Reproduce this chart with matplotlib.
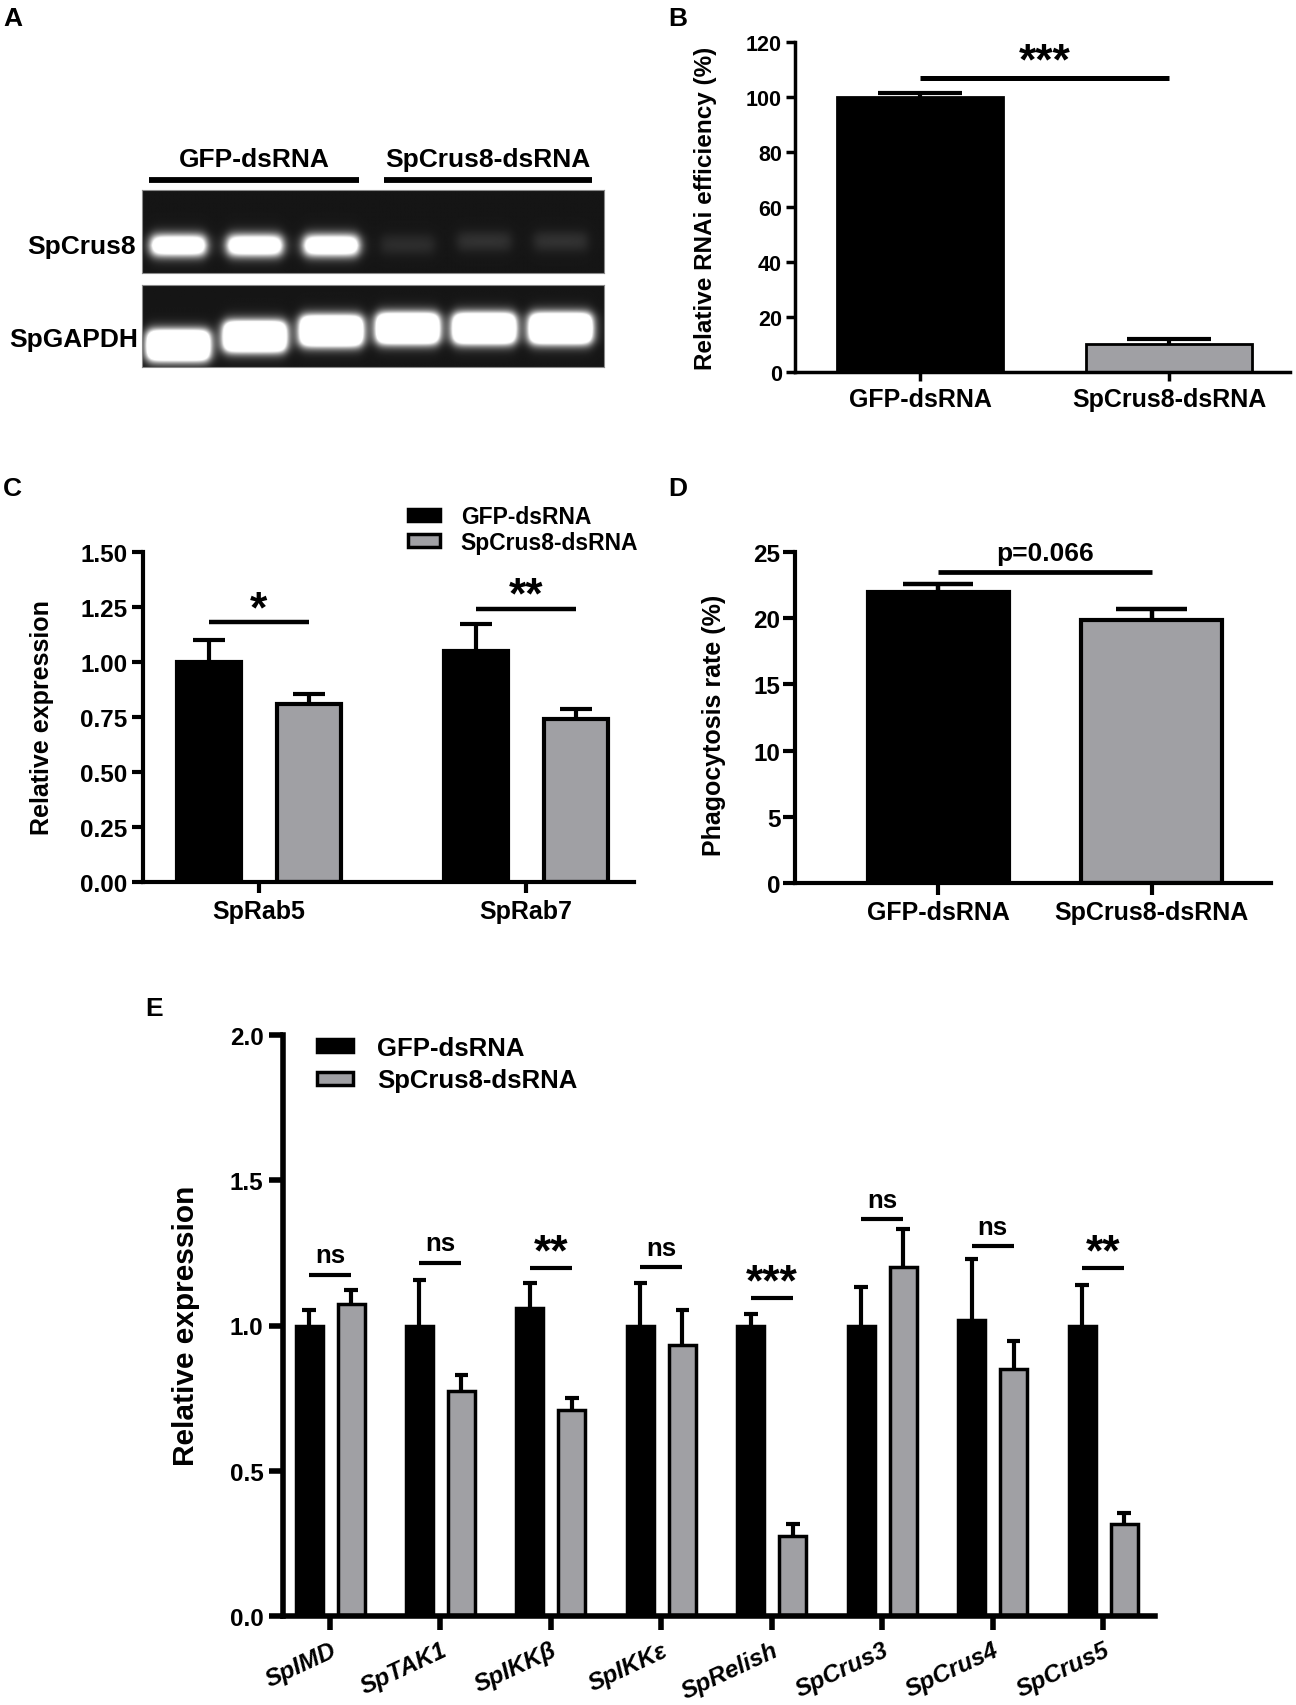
import matplotlib
matplotlib.use("Agg")
import matplotlib.pyplot as plt
from matplotlib.patches import Patch
import numpy as np

plt.rcParams['font.family'] = ['Liberation Sans', 'DejaVu Sans']
plt.rcParams['font.weight'] = 'bold'
plt.rcParams['axes.labelweight'] = 'bold'

W, H = 1296, 1706
BLACK = '#000000'
GREY = '#a0a0a4'

# ---------------- data ----------------
groups = ["GFP-dsRNA", "SpCrus8-dsRNA"]

# A: RT-PCR gel, band brightness per lane (>1 = saturated) and band position in lane (0 top, 1 bottom)
gel_rows = ["SpCrus8", "SpGAPDH"]
crus8_band = [1.7, 1.7, 1.7, 0.10, 0.12, 0.12]
crus8_pos = [0.67, 0.67, 0.67, 0.66, 0.62, 0.62]
gapdh_band = [2.2, 2.2, 2.2, 2.2, 2.2, 2.2]
gapdh_pos = [0.74, 0.63, 0.56, 0.53, 0.53, 0.53]

# B: relative RNAi efficiency (%)
rnai_mean = [100.0, 10.3]
rnai_err = [1.5, 1.7]
rnai_sig = "***"
rnai_sig_y = 107

# C: relative expression of SpRab5 / SpRab7
c_genes = ["SpRab5", "SpRab7"]
c_gfp = [1.00, 1.05]
c_gfp_err = [0.10, 0.125]
c_kd = [0.81, 0.74]
c_kd_err = [0.045, 0.046]
c_sig = ["*", "**"]
c_sig_y = [1.18, 1.24]

# D: phagocytosis rate (%)
phago_mean = [22.0, 19.85]
phago_err = [0.6, 0.85]
phago_sig = "p=0.066"
phago_sig_y = 23.5

# E: relative expression of IMD pathway genes
e_genes = ["SpIMD", "SpTAK1", "SpIKKβ", "SpIKKε", "SpRelish", "SpCrus3", "SpCrus4", "SpCrus5"]
e_gfp = [1.00, 1.00, 1.06, 1.00, 1.00, 1.00, 1.02, 1.00]
e_gfp_err = [0.053, 0.158, 0.088, 0.147, 0.04, 0.133, 0.21, 0.14]
e_kd = [1.075, 0.775, 0.71, 0.932, 0.275, 1.20, 0.85, 0.315]
e_kd_err = [0.046, 0.054, 0.042, 0.123, 0.04, 0.132, 0.097, 0.04]
e_sig = ["ns", "ns", "**", "ns", "***", "ns", "ns", "**"]
e_sig_y = [1.174, 1.216, 1.197, 1.201, 1.094, 1.366, 1.272, 1.197]


fig = plt.figure(figsize=(W / 100, H / 100), dpi=100)


def px_axes(left, top, right, bottom):
    return fig.add_axes([left / W, 1 - bottom / H, (right - left) / W, (bottom - top) / H])


def style(ax, lw, tlen, lsize, ypad=3, xpad=4):
    for s in ['top', 'right']:
        ax.spines[s].set_visible(False)
    for s in ['left', 'bottom']:
        ax.spines[s].set_linewidth(lw)
    ax.tick_params(width=lw, length=tlen, labelsize=lsize)
    ax.tick_params(axis='y', pad=ypad)
    ax.tick_params(axis='x', pad=xpad)
    ax.set_facecolor('none')


def up_err(ax, xs, ys, es, w, lw):
    tops = np.add(ys, es)
    ax.vlines(xs, ys, tops, color=BLACK, lw=lw, zorder=1)
    ax.hlines(tops, np.subtract(xs, w / 4), np.add(xs, w / 4), color=BLACK, lw=lw, zorder=1)


def sig(ax, x1, x2, y, txt, size, off, lw):
    ax.hlines(y, x1, x2, color=BLACK, lw=lw, zorder=3)
    ax.annotate(txt, xy=((x1 + x2) / 2, y), xytext=(0, off), textcoords='offset points',
                ha='center', va='baseline', fontsize=size, fontweight='bold')


def ptxt(x, y, s, **kw):
    fig.text(x / W, 1 - y / H, s, **kw)


# ---------------- A: gel ----------------
lane_lim = (-0.47, 5.56)


def gel_image(bright, pos, hw, hh):
    xs = np.linspace(lane_lim[0], lane_lim[1], 460)
    ys = np.linspace(0, 1, 84)
    X, Y = np.meshgrid(xs, ys)
    img = np.full(X.shape, 0.085)
    for i, (a, yc) in enumerate(zip(bright, pos)):
        fx = 1 / (1 + np.exp((np.abs(X - i) - hw) / 0.04))
        fy = 1 / (1 + np.exp((np.abs(Y - yc) - hh) / 0.04))
        img += a * fx * fy
    return np.clip(img, 0, 1)


gel_axes = [px_axes(142, 191, 604, 274), px_axes(142, 286, 604, 368)]
gel_imgs = [gel_image(crus8_band, crus8_pos, 0.35, 0.105),
            gel_image(gapdh_band, gapdh_pos, 0.40, 0.17)]
for ax, img in zip(gel_axes, gel_imgs):
    ax.imshow(img, extent=(lane_lim[0], lane_lim[1], 1, 0), cmap='gray', vmin=0, vmax=1,
              aspect='auto', interpolation='bilinear')
    ax.set_xlim(lane_lim)
    ax.set_ylim(1, 0)
    ax.set_xticks([])
    ax.set_yticks([])
    for s in ax.spines.values():
        s.set_color('#8a8a8a')
        s.set_linewidth(0.8)

gt = gel_axes[0]
gt.plot([-0.38, 2.36], [-0.12, -0.12], color=BLACK, lw=4.2, solid_capstyle='butt', clip_on=False)
gt.plot([2.69, 5.40], [-0.12, -0.12], color=BLACK, lw=4.2, solid_capstyle='butt', clip_on=False)
gt.text(1.0, -0.37, groups[0], ha='center', va='center', fontsize=19, fontweight='bold', clip_on=False)
gt.text(4.05, -0.37, groups[1], ha='center', va='center', fontsize=19, fontweight='bold', clip_on=False)
ptxt(136, 247, gel_rows[0], ha='right', va='center', fontsize=19, fontweight='bold')
ptxt(138, 340, gel_rows[1], ha='right', va='center', fontsize=19, fontweight='bold')

# ---------------- B ----------------
axB = px_axes(795, 43, 1290, 373)
xb = np.arange(len(groups))
wb = 0.67
axB.bar(xb, rnai_mean, wb, color=[BLACK, GREY], edgecolor=BLACK, linewidth=2.0, zorder=2)
up_err(axB, xb, rnai_mean, rnai_err, wb, 3.0)
axB.set_xlim(-0.502, 1.486)
axB.set_ylim(0, 120)
axB.set_yticks(np.arange(0, 121, 20))
axB.set_xticks(xb)
axB.set_xticklabels(groups, fontsize=18)
style(axB, 2.5, 6.5, 15.5)
axB.tick_params(axis='x', labelsize=18)
axB.set_ylabel("Relative RNAi efficiency (%)", fontsize=17.5)
axB.yaxis.set_label_coords(717 / W, 1 - 208 / H, transform=fig.transFigure)
sig(axB, xb[0], xb[1], rnai_sig_y, rnai_sig, 32, 3, 3.6)

# ---------------- C ----------------
axC = px_axes(143, 553, 634, 883)
xc = np.arange(len(c_genes))
wc, oc = 0.24, 0.187
axC.bar(xc - oc, c_gfp, wc, color=BLACK, edgecolor=BLACK, linewidth=3, zorder=2, label=groups[0])
axC.bar(xc + oc, c_kd, wc, color=GREY, edgecolor=BLACK, linewidth=3, zorder=2, label=groups[1])
up_err(axC, xc - oc, c_gfp, c_gfp_err, wc, 3.0)
up_err(axC, xc + oc, c_kd, c_kd_err, wc, 3.0)
axC.set_xlim(-0.434, 1.404)
axC.set_ylim(0, 1.5)
axC.set_yticks(np.arange(0, 1.51, 0.25))
axC.set_yticklabels([f"{v:.2f}" for v in np.arange(0, 1.51, 0.25)])
axC.set_xticks(xc)
axC.set_xticklabels(c_genes)
style(axC, 3, 8, 17.5)
axC.tick_params(axis='x', labelsize=18)
axC.set_ylabel("Relative expression", fontsize=18)
axC.yaxis.set_label_coords(54 / W, 1 - 718 / H, transform=fig.transFigure)
for i, (t, y) in enumerate(zip(c_sig, c_sig_y)):
    sig(axC, xc[i] - oc, xc[i] + oc, y, t, 32, 1, 3.2)

c_handles = [Patch(facecolor=BLACK, edgecolor=BLACK, linewidth=2.5),
             Patch(facecolor=GREY, edgecolor=BLACK, linewidth=2.5)]
fig.legend(c_handles, groups, loc='upper left', bbox_to_anchor=(408 / W, 1 - 506 / H),
           bbox_transform=fig.transFigure, frameon=False, borderpad=0, borderaxespad=0,
           handlelength=1.4, handleheight=0.45, handletextpad=0.9, labelspacing=0.12,
           prop={'size': 16.5, 'weight': 'bold'})

# ---------------- D ----------------
axD = px_axes(795, 553, 1271, 884)
xd = np.arange(len(groups))
wd = 0.662
axD.bar(xd, phago_mean, wd, color=[BLACK, GREY], edgecolor=BLACK, linewidth=3, zorder=2)
up_err(axD, xd, phago_mean, phago_err, wd, 3.2)
axD.set_xlim(-0.671, 1.56)
axD.set_ylim(0, 25)
axD.set_yticks(np.arange(0, 26, 5))
axD.set_xticks(xd)
axD.set_xticklabels(groups)
style(axD, 3, 8.5, 17.5, ypad=2)
axD.tick_params(axis='x', labelsize=18)
axD.set_ylabel("Phagocytosis rate (%)", fontsize=18)
axD.yaxis.set_label_coords(726 / W, 1 - 725 / H, transform=fig.transFigure)
sig(axD, xd[0], xd[1], phago_sig_y, phago_sig, 19, 8.5, 3.4)

# ---------------- E ----------------
axE = px_axes(283, 1036, 1155, 1617)
xe = np.arange(len(e_genes))
we, oe = 0.245, 0.19
axE.bar(xe - oe, e_gfp, we, color=BLACK, edgecolor=BLACK, linewidth=2.5, zorder=2)
axE.bar(xe + oe, e_kd, we, color=GREY, edgecolor=BLACK, linewidth=2.5, zorder=2)
up_err(axE, xe - oe, e_gfp, e_gfp_err, we, 3.0)
up_err(axE, xe + oe, e_kd, e_kd_err, we, 3.0)
axE.set_xlim(-0.426, 7.47)
axE.set_ylim(0, 2.0)
axE.set_yticks(np.arange(0, 2.01, 0.5))
axE.set_yticklabels([f"{v:.1f}" for v in np.arange(0, 2.01, 0.5)])
axE.set_xticks(xe)
axE.set_xticklabels(e_genes, rotation=25, ha='right', rotation_mode='anchor',
                    fontstyle='italic', fontsize=18.5)
style(axE, 4, 10, 17.5, ypad=4, xpad=6)
axE.set_ylabel("Relative expression", fontsize=21.5)
axE.yaxis.set_label_coords(200 / W, 1 - 1326 / H, transform=fig.transFigure)
for i, (t, y) in enumerate(zip(e_sig, e_sig_y)):
    if t == "ns":
        sig(axE, xe[i] - oe, xe[i] + oe, y, t, 18.5, 9, 3.0)
    else:
        sig(axE, xe[i] - oe, xe[i] + oe, y, t, 32, 3, 3.0)

e_handles = [Patch(facecolor=BLACK, edgecolor=BLACK, linewidth=2.5),
             Patch(facecolor=GREY, edgecolor=BLACK, linewidth=2.5)]
fig.legend(e_handles, groups, loc='upper left', bbox_to_anchor=(317 / W, 1 - 1037 / H),
           bbox_transform=fig.transFigure, frameon=False, borderpad=0, borderaxespad=0,
           handlelength=1.4, handleheight=0.4, handletextpad=0.93, labelspacing=0.33,
           prop={'size': 18.5, 'weight': 'bold'})

# ---------------- panel letters ----------------
for letter, (x, y) in zip("ABCDE", [(3, 7), (668, 7), (3, 477), (668, 477), (145, 997)]):
    ptxt(x, y, letter, ha='left', va='top', fontsize=19, fontweight='bold')

fig.savefig("out.png", dpi=100, facecolor='white')
